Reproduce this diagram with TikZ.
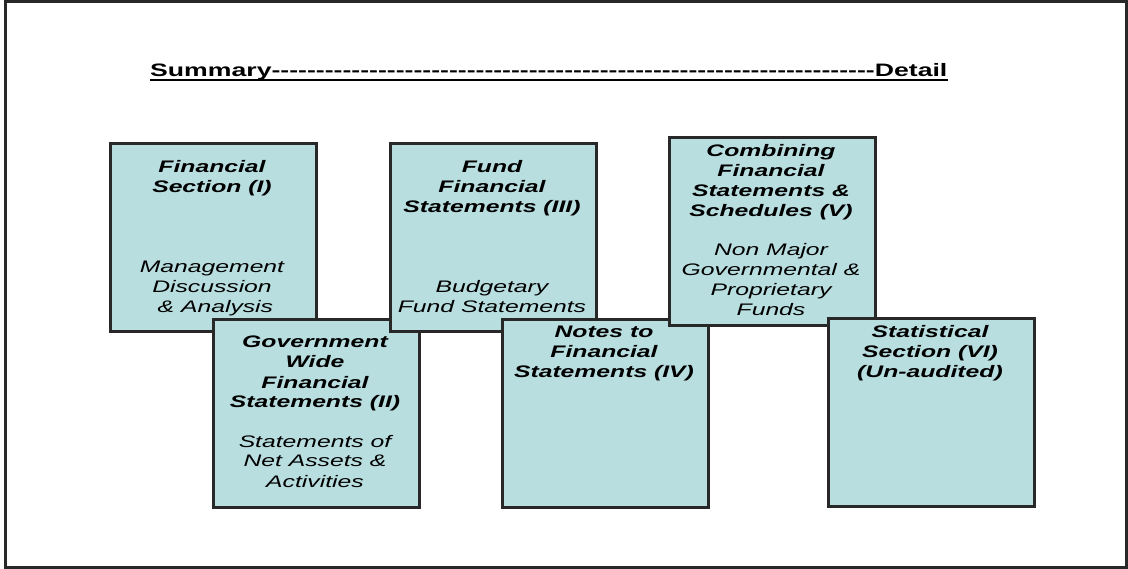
\documentclass[tikz,border=0pt]{standalone}
\usepackage{fontspec}
\setmainfont{Liberation Sans}[FakeStretch=1.48]
\newfontfamily\titlefont{Liberation Sans}[FakeStretch=1.48, Ligatures=TeXOff]
\usetikzlibrary{calc}
\definecolor{boxfill}{RGB}{185,222,224}
\definecolor{boxline}{RGB}{40,40,40}
\begin{document}
\begin{tikzpicture}[x=1pt,y=-1pt,
  sect/.style={draw=boxline, line width=3pt, fill=boxfill, inner sep=0pt,
               anchor=north west, minimum width=206pt, minimum height=188pt},
  ttl/.style={font=\fontsize{16.7}{20}\selectfont\bfseries\itshape, align=center,
              inner sep=0pt, anchor=base},
  sub/.style={font=\fontsize{16.7}{20}\selectfont\itshape, align=center,
              inner sep=0pt, anchor=base}]
\useasboundingbox (0,0) rectangle (1128,569);
\draw[line width=3pt, draw=boxline] (5,1.5) rectangle (1126,567);

\node[font=\titlefont\fontsize{18}{20}\selectfont\bfseries, inner sep=0pt, anchor=base west]
  (title) at (150,77) {Summary--------------------------------------------------------------------Detail};
\draw[line width=2.3pt] ($(title.base west)+(0,3)$) -- ($(title.base east)+(0,3)$);

\node[sect] (b1) at (109,142) {};
\node[ttl] (t1) at (212,193) {Financial\\Section (I)};
\node[sub] (s1) at (212,313) {Management\\Discussion\\\ \& Analysis};

\node[sect] (b2) at (212,318) {};
\node[ttl] (t2) at (315,408) {Government\\Wide\\Financial\\Statements (II)};
\node[sub] (s2) at (315,487) {Statements of\\Net Assets \&\\Activities};

\node[sect] (b3) at (389,142) {};
\node[ttl] (t3) at (492,213) {Fund\\Financial\\Statements (III)};
\node[sub] (s3) at (492,313) {Budgetary\\Fund Statements};

\node[sect] (b4) at (501,318) {};
\node[ttl] (t4) at (604,378) {Notes to\\Financial\\Statements (IV)};

\node[sect] (b5) at (668,136) {};
\node[ttl] (t5) at (771,217) {Combining\\Financial\\Statements \&\\Schedules (V)};
\node[sub] (s5) at (771,316) {Non Major\\Governmental \&\\Proprietary\\Funds};

\node[sect] (b6) at (827,317) {};
\node[ttl] (t6) at (930,378) {Statistical\\Section (VI)\\(Un-audited)};
\end{tikzpicture}
\end{document}
